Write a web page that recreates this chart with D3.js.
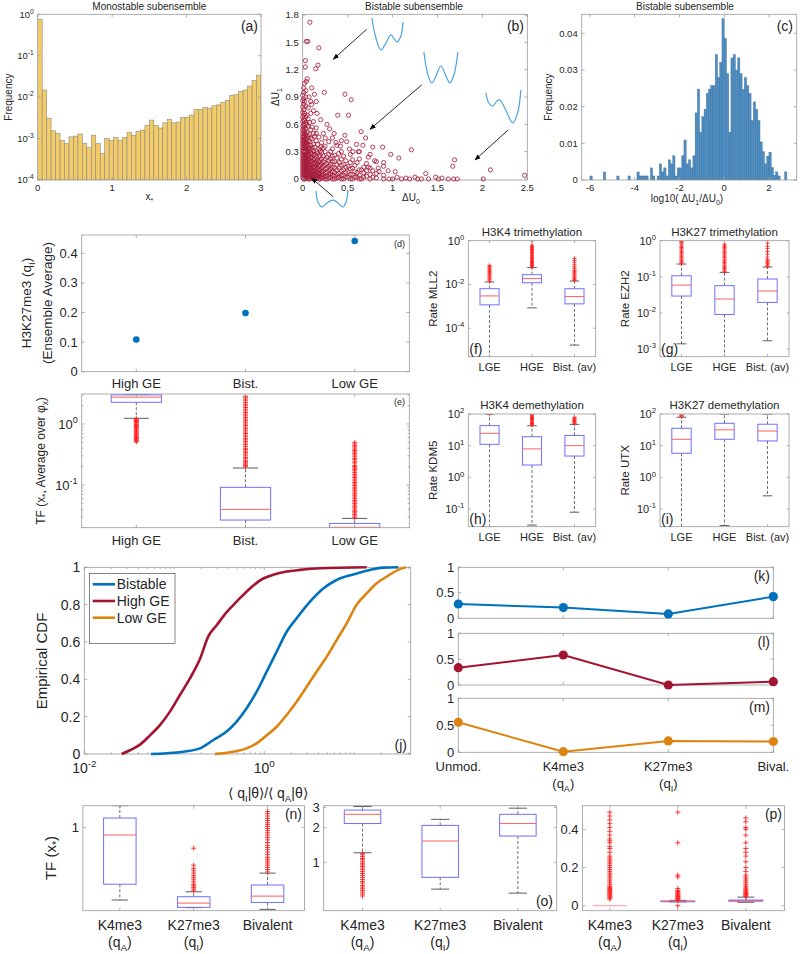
<!DOCTYPE html>
<html><head><meta charset="utf-8">
<script src="https://cdn.jsdelivr.net/npm/d3@7"></script>
<style>body{margin:0;background:#fff}svg{display:block;background:#fff}text{font-family:"Liberation Sans",Arial,Helvetica,sans-serif;fill:#262626}</style>
</head><body><script>
// ================= DATA =================
// (a) monostable histogram
const monoBinStart = 0, monoBinWidth = 0.06;
const monoFreq = [0.76,0.0149,0.0031,0.00154,0.00134,0.00089,0.00076,0.0011,0.00115,0.00129,0.00076,0.00061,0.0012,0.00076,0.00044,0.001,0.00089,0.00107,0.00089,0.00107,0.0014,0.0012,0.0015,0.0016,0.0021,0.0028,0.0021,0.0018,0.0024,0.0029,0.0024,0.0025,0.0032,0.0033,0.0037,0.0051,0.0051,0.0057,0.0054,0.0062,0.0065,0.0075,0.0084,0.011,0.0115,0.0138,0.0149,0.0185,0.025,0.034];
// (b) bistable scatter: dense columns [dU0, [dU1...]] and sparse points
const scatterCols = [
 [0.0,[0.015,0.045,0.075,0.105,0.135,0.165,0.195,0.225,0.255,0.285,0.315,0.345,0.375,0.405,0.435,0.465,0.5,0.54,0.58,0.63,0.68,0.73,0.79,0.86,0.92]],
 [0.01,[0,0.03,0.06,0.09,0.12,0.15,0.18,0.21,0.24,0.27,0.3,0.33,0.36,0.39,0.42,0.45,0.48,0.52,0.56,0.6,0.65,0.7,0.76,0.82,0.88,0.95,1.0]],
 [0.022,[0.0,0.025,0.055,0.085,0.115,0.145,0.175,0.205,0.235,0.265,0.295,0.325,0.355,0.385,0.415,0.46,0.5,0.53,0.59,0.64,0.72,0.85]],
 [0.035,[0.01,0.04,0.07,0.1,0.13,0.16,0.19,0.22,0.25,0.28,0.31,0.34,0.37,0.4,0.44,0.48,0.55,0.62,0.68,0.8,0.9,0.97]],
 [0.047,[0.015,0.045,0.075,0.105,0.135,0.165,0.195,0.225,0.255,0.29,0.32,0.36,0.4,0.45,0.51,0.6,0.7]],
 [0.06,[0,0.03,0.06,0.09,0.12,0.15,0.18,0.21,0.24,0.27,0.3,0.34,0.38,0.42,0.47,0.58,0.66,0.78]],
 [0.075,[0.0,0.025,0.055,0.085,0.115,0.145,0.18,0.22,0.26,0.3,0.34,0.41,0.49,0.62]],
 [0.09,[0.01,0.04,0.07,0.1,0.13,0.16,0.2,0.24,0.28,0.32,0.37,0.45,0.54,0.72,0.85]],
 [0.105,[0.015,0.045,0.075,0.11,0.15,0.19,0.23,0.28,0.34,0.44,0.57]],
 [0.12,[0,0.03,0.06,0.09,0.13,0.17,0.21,0.26,0.31,0.38,0.5,0.63]],
 [0.135,[0.0,0.025,0.055,0.09,0.13,0.17,0.22,0.27,0.35,0.47]],
 [0.15,[0.01,0.04,0.07,0.11,0.15,0.19,0.24,0.3,0.42,0.56]],
 [0.165,[0.015,0.05,0.085,0.12,0.165,0.21,0.28,0.38]],
 [0.18,[0,0.03,0.06,0.1,0.14,0.19,0.25,0.33,0.46]],
 [0.195,[0.0,0.025,0.06,0.1,0.15,0.2,0.26,0.31]],
 [0.21,[0.01,0.04,0.08,0.12,0.17,0.22,0.29,0.4]],
 [0.23,[0.015,0.05,0.09,0.14,0.19,0.25,0.34]],
 [0.25,[0,0.03,0.07,0.11,0.16,0.22,0.3,0.36]],
 [0.27,[0.0,0.03,0.07,0.12,0.17,0.24]],
 [0.29,[0.01,0.05,0.09,0.14,0.2,0.27,0.41]],
 [0.31,[0.02,0.06,0.11,0.16,0.22,0.3]],
 [0.33,[0,0.04,0.08,0.13,0.19,0.25,0.33]],
 [0.355,[0.0,0.03,0.07,0.12,0.19,0.26]],
 [0.38,[0.01,0.05,0.1,0.16,0.23,0.37]],
 [0.405,[0.02,0.06,0.12,0.18]],
 [0.43,[0,0.04,0.09,0.15,0.22,0.3]],
 [0.455,[0.0,0.04,0.1,0.16,0.25]],
 [0.48,[0.02,0.07,0.13,0.2]],
 [0.505,[0.02,0.08,0.14]],
 [0.53,[0,0.05,0.11,0.18,0.27]],
 [0.555,[0.0,0.05,0.12,0.21]],
 [0.58,[0.02,0.08,0.15]],
 [0.605,[0.02,0.07,0.18]],
 [0.63,[0,0.04,0.1,0.22,0.3]],
 [0.655,[0.0,0.1]],
 [0.68,[0.02,0.07,0.13]],
 [0.71,[0.03,0.09,0.17]],
 [0.75,[0,0.05,0.12,0.27]],
 [0.78,[0.02,0.09]],
 [0.82,[0.01,0.06,0.19]],
 [0.9,[0,0.04,0.14]]
];
const scatterSparse = [[0.08,1.72],[0.04,1.51],[0.056,1.51],[0.18,1.44],[0.03,1.3],[0.03,1.23],[0.145,1.21],[0.17,1.25],[0.04,1.07],[0.24,0.95],[0.47,0.93],[0.54,0.87],[0.13,0.93],[0.1,1.0],[0.51,0.7],[0.39,0.7],[0.65,0.52],[0.16,0.72],[0.47,0.48],[0.43,0.42],[0.37,0.4],[0.49,0.41],[0.67,0.37],[0.78,0.35],[0.89,0.35],[0.98,0.27],[1.07,0.23],[1.21,0.32],[0.73,0.24],[0.8,0.2],[0.9,0.18],[0.73,0.13],[0.84,0.12],[1.69,0.21],[1.67,0.14],[2.09,0.1],[2.01,0.0],[2.47,0.04],[1.37,0.06],[1.48,0.02],[1.51,0.0],[1.62,0.0],[1.1,0.0],[1.19,0.0],[1.0,0.0],[1.05,0.02],[0.96,0.0],[1.28,0.0],[1.25,0.02],[1.15,0.01],[1.55,0.01],[1.68,0.0],[1.72,0.0],[0.7,0.45],[0.6,0.38],[0.85,0.08],[0.95,0.09],[1.03,0.08],[0.62,0.3],[0.56,0.3],[0.27,0.6],[0.2,0.65],[0.1,0.82],[0.07,0.9],[0.23,0.5],[0.3,0.55],[0.35,0.5],[0.12,0.75],[0.05,1.1],[0.02,1.05],[0.15,0.85],[0.42,0.36],[0.52,0.33],[1.32,0.0],[1.4,0.0],[0.33,0.45],[0.4,0.28],[0.25,0.45],[0.2,0.35],[0.15,0.5]];
// (b) potential sketches and arrows, in (dU0,dU1) units
const potentialSketches = [
 [[0.771,1.767],[0.815,1.548],[0.871,1.416],[0.927,1.493],[0.982,1.581],[1.049,1.504],[1.093,1.570],[1.116,1.723]],
 [[1.349,1.394],[1.394,1.142],[1.438,1.054],[1.483,1.131],[1.538,1.240],[1.594,1.131],[1.638,1.054],[1.683,1.142],[1.728,1.394]],
 [[2.039,0.944],[2.072,0.834],[2.117,0.801],[2.161,0.856],[2.195,0.867],[2.250,0.779],[2.339,0.615],[2.395,0.735],[2.428,0.977]],
 [[0.148,-0.132],[0.170,-0.252],[0.215,-0.307],[0.270,-0.263],[0.337,-0.231],[0.393,-0.263],[0.448,-0.307],[0.482,-0.252],[0.504,-0.132]]
];
const sketchArrows = [[[0.712,1.643],[0.340,1.314]],[[1.324,1.032],[0.749,0.546]],[[2.287,0.538],[1.917,0.209]],[[0.340,-0.194],[0.100,0.008]]];
// (c) log10 ratio histogram, bins of 0.1 from -6.1
const ratioBinStart = -6.1, ratioBinWidth = 0.1;
const ratioFreq = [0,0.0011,0,0,0,0,0,0.0022,0,0,0,
 0,0,0.0011,0,0,0,0,0.0011,0,0,
 0,0.0022,0.0011,0.0011,0.0011,0.0011,0,0.0033,0.0011,0,
 0.0011,0.0044,0.0022,0.0033,0.0011,0.0055,0.0044,0.0066,0.0011,0.0033,
 0.0033,0.0066,0.0109,0.0044,0.0055,0.0033,0.0066,0.0183,0.0248,0.013,
 0.0173,0.0193,0.0236,0.0248,0.0257,0.0257,0.0342,0.0279,0.0321,0.044,
 0.0386,0.029,0.013,0.0333,0.0342,0.03,0.0333,0.029,0.0247,0.0279,
 0.0257,0.0236,0.0162,0.0213,0.0193,0.0162,0.0104,0.0077,0.0044,0.0065,
 0.0076,0.0034,0.0013,0.0022,0.0011,0,0,0.0022];
// (d)
const geClasses = ["High GE","Bist.","Low GE"];
const h3k27Avg = [0.109,0.198,0.4415];
// (e)
const tfStats = [{q1:2.27,med:2.75,q3:2.99,lo:1.24,hi:3.1},{q1:0.0267,med:0.0399,q3:0.0917,lo:0.012,hi:0.19},{q1:0.018,med:0.0203,q3:0.0235,lo:0.012,hi:0.0284}];
const tfOut = [
 [1.22,1.18,1.15,1.12,1.1,1.07,1.04,1.0,0.97,0.94,0.91,0.88,0.85,0.82,0.79,0.76,0.73,0.7,0.67,0.64,0.62,0.6,0.58,0.56,0.54,0.52,0.51],
 [0.2,0.21,0.22,0.23,0.24,0.25,0.27,0.28,0.3,0.32,0.34,0.36,0.38,0.4,0.43,0.46,0.49,0.52,0.55,0.58,0.62,0.66,0.7,0.74,0.79,0.84,0.89,0.95,1.0,1.07,1.13,1.2,1.28,1.36,1.45,1.54,1.64,1.75,1.86,1.98,2.1,2.24,2.4,2.55,2.7,2.85],
 [0.029,0.031,0.033,0.035,0.037,0.039,0.042,0.044,0.047,0.05,0.053,0.056,0.06,0.064,0.068,0.072,0.077,0.082,0.087,0.092,0.098,0.104,0.11,0.117,0.125,0.133,0.141,0.15,0.16,0.17,0.18,0.19,0.2,0.21,0.23,0.24,0.26,0.27,0.29,0.31,0.33,0.35,0.37,0.39,0.42,0.44,0.47,0.5]];
// (f)-(i)
const rateClasses = ["LGE","HGE","Bist. (av)"];
const mll2Stats = [{q1:0.00117,med:0.003,q3:0.0064,lo:1e-6,hi:0.013},{q1:0.012,med:0.0186,q3:0.028,lo:0.00085,hi:0.059},{q1:0.0013,med:0.0028,q3:0.0064,lo:1.7e-5,hi:0.0144}];
const mll2Out = [[0.014,0.016,0.018,0.02,0.022,0.025,0.028,0.031,0.035,0.039,0.044,0.049,0.055,0.061,0.068,0.074],
 [0.062,0.068,0.075,0.083,0.092,0.1,0.11,0.12,0.135,0.15,0.165,0.18,0.2,0.22,0.25,0.28,0.31,0.35,0.4,0.45,0.48,0.55,0.62,1.0],
 [0.015,0.017,0.019,0.021,0.024,0.027,0.03,0.034,0.038,0.042,0.045,0.055,0.065,0.08,0.1,0.125,0.155]];
const ezh2Stats = [{q1:0.0294,med:0.059,q3:0.107,lo:0.0014,hi:0.226},{q1:0.0091,med:0.0244,q3:0.057,lo:0.0003,hi:0.133},{q1:0.0196,med:0.0405,q3:0.087,lo:0.0017,hi:0.187}];
const ezh2Out = [[0.23,0.25,0.27,0.29,0.31,0.34,0.37,0.4,0.43,0.47,0.51,0.55,0.6,0.65,0.7,0.76,0.82,0.89,0.95,1.0],
 [0.135,0.145,0.155,0.17,0.18,0.195,0.21,0.23,0.25,0.27,0.29,0.31,0.34,0.37,0.4,0.43,0.47,0.51,0.55,0.6,0.65,0.7,0.75,0.8],
 [0.19,0.2,0.215,0.23,0.245,0.26,0.28,0.3,0.35,0.42,0.5,0.6,0.7,0.85,1.0]];
const kdm5Stats = [{q1:11,med:24.5,q3:43,lo:0.001,hi:100},{q1:2.45,med:7.9,q3:19.2,lo:0.031,hi:42.5},{q1:4.7,med:10,q3:21,lo:0.079,hi:47}];
const kdm5Out = [[97,100],[44,47,50,53,56,60,64,68,72,77,82,87,92,97,100],[49,52,55,58,62,66,70,74,79]];
const utxStats = [{q1:5.75,med:15.9,q3:35.4,lo:0.001,hi:79},{q1:15.9,med:31.6,q3:50.8,lo:0.03,hi:100},{q1:14.1,med:29,q3:47.5,lo:0.26,hi:100}];
const utxOut = [[82,86,90,94],[],[]];
// (j) empirical CDFs
const cdfBistX = [0.0551,0.1259,0.1932,0.2716,0.382,0.493,0.637,0.824,1.064,1.374,1.774,2.291,3.221,4.529,6.368,9.772,14.93,21.04,30.83];
const cdfBistY = [0,0.0125,0.03,0.075,0.12,0.173,0.245,0.334,0.441,0.548,0.655,0.727,0.816,0.887,0.932,0.962,0.986,0.998,1];
const cdfHighX = [0.026,0.0322,0.0416,0.0537,0.0693,0.0895,0.1156,0.1493,0.1932,0.2388,0.2958,0.382,0.493,0.693,0.975,1.259,1.774,2.495,4.159,13.74];
const cdfHighY = [0,0.02,0.05,0.1,0.155,0.227,0.316,0.405,0.51,0.63,0.69,0.76,0.816,0.887,0.94,0.96,0.977,0.986,0.995,1];
const cdfLowX = [0.2831,0.4529,0.637,0.824,1.064,1.374,1.774,2.291,2.958,3.819,4.932,6.368,8.241,10.64,13.74,17.74,22.91,30.83,37.5];
const cdfLowY = [0,0.0125,0.03,0.057,0.1,0.146,0.209,0.28,0.36,0.441,0.52,0.61,0.7,0.8,0.86,0.914,0.95,0.986,1];
// (k)-(m)
const markStates = ["Unmod.","K4me3","K27me3","Bival."];
const fracBist = [0.28,0.21,0.085,0.425];
const fracHigh = [0.335,0.58,0.0,0.065];
const fracLow = [0.555,0.012,0.21,0.2];
// (n)-(p)
const nStats = [{q1:0.32,med:0.86,q3:1.21,lo:0.233,hi:1.55},{q1:0.201,med:0.219,q3:0.249,lo:0.2,hi:0.275},{q1:0.222,med:0.252,q3:0.315,lo:0.193,hi:0.4}];
const nOut = [[],[0.28,0.29,0.3,0.31,0.32,0.335,0.35,0.365,0.38,0.4,0.42,0.44,0.47,0.66],
 [0.41,0.43,0.45,0.47,0.49,0.51,0.53,0.55,0.58,0.61,0.64,0.67,0.7,0.74,0.78,0.82,0.86,0.9,0.94,0.98,1.02,1.06,1.1,1.15,1.2,1.26,1.32,1.38]];
const oStats = [{q1:2.17,med:2.61,q3:2.84,lo:1.21,hi:3.05},{q1:0.74,med:1.53,q3:2.09,lo:0.585,hi:2.36},{q1:1.69,med:2.17,q3:2.61,lo:0.54,hi:2.95}];
const oOut = [[1.19,1.16,1.12,1.08,1.05,1.01,0.98,0.95,0.92,0.89,0.86,0.83,0.8,0.77,0.74,0.71,0.68,0.66,0.63,0.61,0.59,0.57,0.55,0.53,0.51],[],[]];
const pStats = [{q1:0,med:0,q3:0,lo:0,hi:0},{q1:0.021,med:0.023,q3:0.025,lo:0.02,hi:0.028},{q1:0.024,med:0.026,q3:0.03,lo:0.018,hi:0.045}];
const pOut = [[0.035,0.04,0.045,0.05,0.055,0.06,0.065,0.07,0.075,0.08,0.085,0.09,0.095,0.1,0.11,0.12,0.13,0.14,0.15,0.16,0.17,0.18,0.19,0.2,0.21,0.22,0.23,0.24,0.25,0.26,0.28,0.3,0.31,0.33,0.34,0.35,0.37,0.39,0.41,0.43,0.45,0.47,0.49],
 [0.0,0.03,0.033,0.036,0.04,0.044,0.048,0.052,0.056,0.06,0.065,0.07,0.075,0.08,0.09,0.15,0.16,0.33,0.49],
 [0.048,0.052,0.056,0.06,0.064,0.068,0.072,0.077,0.082,0.087,0.093,0.1,0.11,0.12,0.13,0.14,0.15,0.16,0.18,0.2,0.23,0.26,0.28,0.3,0.33,0.37,0.4,0.41,0.44,0.46]];
const markCats = [["K4me3","A"],["K27me3","I"],["Bivalent",null]];

// ================= DRAWING =================
const svg = d3.select("body").append("svg").attr("width",800).attr("height",954);
const defs = svg.append("defs");
defs.append("marker").attr("id","arr").attr("viewBox","0 0 10 10").attr("refX",9).attr("refY",5)
  .attr("markerWidth",7).attr("markerHeight",7).attr("orient","auto")
  .append("path").attr("d","M0,1.2L10,5L0,8.8z").attr("fill","#000");
const AX = "#9a9a9a";
const BLUE="#0072bd", RED="#a2142f", ORANGE="#dd8410";
let clipN = 0;
function ln(x1,y1,x2,y2,c=AX,w=0.8){svg.append("line").attr("x1",x1).attr("y1",y1).attr("x2",x2).attr("y2",y2).attr("stroke",c).attr("stroke-width",w);}
function frame(x0,y0,x1,y1){svg.append("rect").attr("x",x0).attr("y",y0).attr("width",x1-x0).attr("height",y1-y0).attr("fill","none").attr("stroke",AX).attr("stroke-width",0.8);}
function clipG(x0,y0,x1,y1){const id="clip"+(clipN++);defs.append("clipPath").attr("id",id).append("rect").attr("x",x0).attr("y",y0).attr("width",x1-x0).attr("height",y1-y0);return svg.append("g").attr("clip-path",`url(#${id})`);}
function txt(x,y,parts,o={}){
  const size=o.size||10;
  const t=svg.append("text").attr("x",x).attr("y",y).attr("font-size",size).attr("text-anchor",o.anchor||"middle");
  if(o.rotate) t.attr("transform",`rotate(-90,${x},${y})`);
  if(typeof parts==="string") parts=[parts];
  let shift=0;
  parts.forEach(p=>{
    const [s,k]=Array.isArray(p)?p:[p,null];
    const target=k==="sup"?-0.42*size:k==="sub"?0.28*size:0;
    const ts=t.append("tspan").text(s).attr("dy",target-shift);
    if(k) ts.attr("font-size",size*0.7);
    shift=target;
  });
  return t;
}
const pow = e => ["10",[String(e),"sup"]];
function yTicks(ys,vals,fmt,x0,x1,size,tl=3){
  vals.forEach(v=>{const y=ys(v);ln(x0,y,x0+tl,y);ln(x1,y,x1-tl,y);txt(x0-4,y+size*0.35,fmt(v),{size,anchor:"end"});});
}
function xTicks(xs,vals,fmt,y0,y1,size,dy,tl=3){
  vals.forEach((v,i)=>{const x=xs(v);ln(x,y1,x,y1-tl);ln(x,y0,x,y0+tl);const f=fmt(v,i);if(f!==null)txt(x,y1+dy,f,{size});});
}
function minorY(ys,vals,x0,x1){vals.forEach(v=>{const y=ys(v);ln(x0,y,x0+1.7,y);ln(x1,y,x1-1.7,y);});}
function minorX(xs,vals,y0,y1){vals.forEach(v=>{const x=xs(v);ln(x,y1,x,y1-1.7);ln(x,y0,x,y0+1.7);});}
function boxplot(g,xs,ys,stats,outs,w,o={}){
  const ps=o.plus||4.5;
  stats.forEach((s,i)=>{
    const cx=xs(i+1),hw=Math.abs(xs(1+w/2)-xs(1));
    const dash=g.append("g").attr("stroke","#4a4a4a").attr("stroke-width",0.8).attr("stroke-dasharray","3,2");
    dash.append("line").attr("x1",cx).attr("x2",cx).attr("y1",ys(s.q3)).attr("y2",ys(s.hi));
    dash.append("line").attr("x1",cx).attr("x2",cx).attr("y1",ys(s.q1)).attr("y2",ys(s.lo));
    if(s.hi!==s.q3) [s.hi,s.lo].forEach(v=>g.append("line").attr("x1",cx-hw/2).attr("x2",cx+hw/2).attr("y1",ys(v)).attr("y2",ys(v)).attr("stroke","#333").attr("stroke-width",0.8));
    if(s.q3!==s.q1) g.append("rect").attr("x",cx-hw).attr("width",2*hw).attr("y",ys(s.q3)).attr("height",ys(s.q1)-ys(s.q3)).attr("fill","none").attr("stroke","#6f6fff").attr("stroke-width",1);
    g.append("line").attr("x1",cx-hw).attr("x2",cx+hw).attr("y1",ys(s.med)).attr("y2",ys(s.med)).attr("stroke",s.q3!==s.q1?"#ff6060":"#ff9a9a").attr("stroke-width",1);
    (outs[i]||[]).forEach(v=>{const y=ys(v);g.append("path").attr("d",`M${cx-ps/2},${y}h${ps}M${cx},${y-ps/2}v${ps}`).attr("stroke","#ff2020").attr("stroke-width",0.9).attr("fill","none");});
  });
}

// ---------- (a) ----------
{
  const x0=37.7,x1=261,y0=14.3,y1=180;
  const xs=d3.scaleLinear([0,3],[x0,x1]), ys=d3.scaleLog([1e-4,1],[y1,y0]);
  const g=clipG(x0,y0,x1,y1);
  g.selectAll("rect").data(monoFreq).join("rect")
    .attr("x",(d,i)=>xs(monoBinStart+i*monoBinWidth)).attr("width",xs(monoBinWidth)-xs(0))
    .attr("y",d=>ys(d)).attr("height",d=>ys(1e-4)-ys(d))
    .attr("fill","#f3cb69").attr("stroke","#8d8a80").attr("stroke-width",0.6);
  frame(x0,y0,x1,y1);
  xTicks(xs,[0,1,2,3],v=>String(v),y0,y1,9.5,11);
  yTicks(ys,[1e-4,1e-3,1e-2,1e-1,1],v=>pow(Math.round(Math.log10(v))),x0,x1,9.5);
  txt((x0+x1)/2,10,"Monostable subensemble",{size:10});
  txt((x0+x1)/2,200,["x",["*","sub"]],{size:10});
  txt(12,(y0+y1)/2,"Frequency",{size:10,rotate:true});
  txt(258,31,"(a)",{size:14,anchor:"end"});
}
// ---------- (b) ----------
{
  const x0=302.7,x1=527.3,y0=14.3,y1=180;
  const xs=d3.scaleLinear([0,2.5],[x0,x1]), ys=d3.scaleLinear([0,1.8],[179,15]);
  frame(x0,y0,x1,y1);
  const pts=[];
  scatterCols.forEach(([u,vs])=>vs.forEach(v=>pts.push([u,v])));
  scatterSparse.forEach(p=>pts.push(p));
  svg.append("g").selectAll("circle").data(pts).join("circle")
    .attr("cx",d=>xs(d[0])).attr("cy",d=>ys(d[1])).attr("r",2.1)
    .attr("fill","none").attr("stroke","#a81d3c").attr("stroke-width",0.85);
  xTicks(xs,[0,0.5,1,1.5,2,2.5],v=>String(v),y0,y1,9.5,11);
  yTicks(ys,[0,0.3,0.6,0.9,1.2,1.5,1.8],v=>v===0?"0":v.toFixed(1),x0,x1,9.5);
  const line=d3.line().x(d=>xs(d[0])).y(d=>ys(d[1])).curve(d3.curveCatmullRom);
  potentialSketches.forEach(s=>svg.append("path").attr("d",line(s)).attr("fill","none").attr("stroke","#4aa3df").attr("stroke-width",1.2));
  sketchArrows.forEach(([a,b])=>svg.append("line").attr("x1",xs(a[0])).attr("y1",ys(a[1])).attr("x2",xs(b[0])).attr("y2",ys(b[1])).attr("stroke","#111").attr("stroke-width",0.9).attr("marker-end","url(#arr)"));
  txt(414,10,"Bistable subensemble",{size:10});
  txt(411,201,["ΔU",["0","sub"]],{size:10});
  txt(279,97,["ΔU",["1","sub"]],{size:10,rotate:true});
  txt(524,31,"(b)",{size:14,anchor:"end"});
}
// ---------- (c) ----------
{
  const x0=581.7,x1=796.7,y0=14.3,y1=180;
  const xs=d3.scaleLinear([-6.37,3.24],[x0,x1]), ys=d3.scaleLinear([0,0.0452],[y1,y0]);
  const g=clipG(x0,y0,x1,y1);
  g.selectAll("rect").data(ratioFreq).join("rect")
    .attr("x",(d,i)=>xs(ratioBinStart+i*ratioBinWidth)).attr("width",xs(ratioBinWidth)-xs(0))
    .attr("y",d=>ys(d)).attr("height",d=>ys(0)-ys(d))
    .attr("fill","#4d8fc6").attr("stroke","#3a6b93").attr("stroke-width",0.4);
  frame(x0,y0,x1,y1);
  xTicks(xs,[-6,-4,-2,0,2],v=>String(v),y0,y1,9.5,11);
  yTicks(ys,[0,0.01,0.02,0.03,0.04],v=>v===0?"0":v.toFixed(2),x0,x1,9.5);
  txt(685,10,"Bistable subensemble",{size:10});
  txt(687,202,["log10( ΔU",["1","sub"],"/ΔU",["0","sub"],")"],{size:10});
  txt(552,97,"Frequency",{size:10,rotate:true});
  txt(793,31,"(c)",{size:14,anchor:"end"});
}
// ---------- (d) ----------
{
  const x0=81.7,x1=409.3,y0=235,y1=371.7;
  const xs=d3.scaleLinear([0.5,3.5],[x0,x1]), ys=d3.scaleLinear([0,0.462],[y1,y0]);
  frame(x0,y0,x1,y1);
  yTicks(ys,[0,0.1,0.2,0.3,0.4],v=>v===0?"0":v.toFixed(1),x0,x1,13);
  xTicks(xs,[1,2,3],(v,i)=>geClasses[i],y0,y1,13,16);
  svg.append("g").selectAll("circle").data(h3k27Avg).join("circle")
    .attr("cx",(d,i)=>xs(i+1)).attr("cy",d=>ys(d)).attr("r",3.3).attr("fill",BLUE);
  txt(31,303,["H3K27me3 (q",["I","sub"],")"],{size:13.5,rotate:true});
  txt(52,303,"(Ensemble Average)",{size:13.5,rotate:true});
  txt(405,246.5,"(d)",{size:9,anchor:"end"});
}
// ---------- (e) ----------
{
  const x0=81.7,x1=409.3,y0=394,y1=527.7;
  const xs=d3.scaleLinear([0.5,3.5],[x0,x1]), ys=d3.scaleLog([0.02,3.1],[y1,y0]);
  const g=clipG(x0,y0,x1,y1);
  boxplot(g,xs,ys,tfStats,tfOut,0.46,{plus:5});
  frame(x0,y0,x1,y1);
  yTicks(ys,[0.1,1],v=>pow(Math.round(Math.log10(v))),x0,x1,13);
  minorY(ys,[0.02,0.03,0.04,0.05,0.06,0.07,0.08,0.09,0.2,0.3,0.4,0.5,0.6,0.7,0.8,0.9,2,3],x0,x1);
  xTicks(xs,[1,2,3],(v,i)=>geClasses[i],y0,y1,13,17);
  txt(45,461,["TF (x",["*","sub"],", Average over φ",["x","sub"],")"],{size:12,rotate:true});
  txt(405,405,"(e)",{size:9,anchor:"end"});
}
// ---------- (f)-(i) ----------
function ratePanel(o){
  const xs=d3.scaleLinear([0.5,3.5],[o.x0,o.x1]), ys=d3.scaleLog(o.dom,[o.y1,o.y0]);
  const g=clipG(o.x0,o.y0,o.x1,o.y1);
  boxplot(g,xs,ys,o.stats,o.outs,0.45,{plus:4});
  frame(o.x0,o.y0,o.x1,o.y1);
  yTicks(ys,o.ticks,v=>pow(Math.round(Math.log10(v))),o.x0,o.x1,11,2.5);
  xTicks(xs,[1,2,3],(v,i)=>rateClasses[i],o.y0,o.y1,11,14,2.5);
  txt((o.x0+o.x1)/2,o.y0-5,o.title,{size:11.5});
  txt(o.x0-31,(o.y0+o.y1)/2,o.ylab,{size:11.5,rotate:true});
  txt(o.x0+1,o.y1-3,o.tag,{size:14,anchor:"start"});
}
ratePanel({x0:468.3,x1:595.7,y0:240.7,y1:356.7,dom:[Math.pow(10,-5.3),1],ticks:[1e-4,1e-2,1],stats:mll2Stats,outs:mll2Out,title:"H3K4 trimethylation",ylab:"Rate MLL2",tag:"(f)"});
ratePanel({x0:660,x1:789,y0:240.7,y1:356.7,dom:[Math.pow(10,-3.21),1],ticks:[1e-3,1e-2,1e-1,1],stats:ezh2Stats,outs:ezh2Out,title:"H3K27 trimethylation",ylab:"Rate EZH2",tag:"(g)"});
ratePanel({x0:468.3,x1:595.7,y0:414,y1:526.7,dom:[Math.pow(10,-1.56),100],ticks:[0.1,1,10,100],stats:kdm5Stats,outs:kdm5Out,title:"H3K4 demethylation",ylab:"Rate KDM5",tag:"(h)"});
ratePanel({x0:660,x1:789,y0:414,y1:526.7,dom:[Math.pow(10,-1.56),100],ticks:[0.1,1,10,100],stats:utxStats,outs:utxOut,title:"H3K27 demethylation",ylab:"Rate UTX",tag:"(i)"});
// ---------- (j) ----------
{
  const x0=84.3,x1=410.7,y0=567.3,y1=754;
  const xs=d3.scaleLog([0.01,42.4],[x0,x1]), ys=d3.scaleLinear([0,1],[y1,y0]);
  frame(x0,y0,x1,y1);
  yTicks(ys,[0,0.2,0.4,0.6,0.8,1],v=>(v===0||v===1)?String(v):v.toFixed(1),x0,x1,14);
  xTicks(xs,[0.01,1],v=>pow(Math.round(Math.log10(v))),y0,y1,14,19);
  minorX(xs,[0.02,0.03,0.04,0.05,0.06,0.07,0.08,0.09,0.1,0.2,0.3,0.4,0.5,0.6,0.7,0.8,0.9,2,3,4,5,6,7,8,9,10,20,30,40],y0,y1);
  const line=d3.line().x(d=>xs(d[0])).y(d=>ys(d[1])).curve(d3.curveMonotoneX);
  const series=[[cdfBistX,cdfBistY,BLUE,"Bistable"],[cdfHighX,cdfHighY,RED,"High GE"],[cdfLowX,cdfLowY,ORANGE,"Low GE"]];
  series.forEach(([X,Y,c])=>svg.append("path").attr("d",line(X.map((x,i)=>[x,Y[i]]))).attr("fill","none").attr("stroke",c).attr("stroke-width",2.6));
  svg.append("rect").attr("x",89.3).attr("y",573.3).attr("width",85.7).attr("height",70).attr("fill","#fff").attr("stroke","#333").attr("stroke-width",0.6);
  series.forEach(([X,Y,c,name],i)=>{
    const yy=584.3+i*16.7;
    ln(92.7,yy,115,yy,c,2.6);
    txt(116.7,yy+5,name,{size:14,anchor:"start"});
  });
  txt(47,661,"Empirical CDF",{size:15,rotate:true});
  txt(268,798,["⟨ q",["I","sub"],"|θ⟩/⟨ q",["A","sub"],"|θ⟩"],{size:14});
  txt(407,750,"(j)",{size:14,anchor:"end"});
}
// ---------- (k)-(m) ----------
{
  const x0=458.3,x1=773.3;
  const xs=d3.scaleLinear([1,4],[x0,x1]);
  const rows=[[567.3,618.3,fracBist,BLUE,"(k)"],[633.3,685,fracHigh,RED,"(l)"],[698.3,752.3,fracLow,ORANGE,"(m)"]];
  rows.forEach(([y0,y1,vals,c,tag],r)=>{
    const ys=d3.scaleLinear([0,1],[y1,y0]);
    frame(x0,y0,x1,y1);
    yTicks(ys,[0,0.5,1],v=>String(v),x0,x1,13);
    xTicks(xs,[1,2,3,4],()=>null,y0,y1,13,0);
    svg.append("path").attr("d",d3.line().x((d,i)=>xs(i+1)).y(d=>ys(d))(vals)).attr("fill","none").attr("stroke",c).attr("stroke-width",2);
    svg.append("g").selectAll("circle").data(vals).join("circle").attr("cx",(d,i)=>xs(i+1)).attr("cy",d=>ys(d)).attr("r",4.6).attr("fill",c);
    txt(770,y0+14,tag,{size:14,anchor:"end"});
  });
  txt(xs(1),771,markStates[0],{size:13});
  txt(xs(2),771,markStates[1],{size:13});
  txt(xs(2),788,["(q",["A","sub"],")"],{size:13});
  txt(xs(3),771,markStates[2],{size:13});
  txt(xs(3),788,["(q",["I","sub"],")"],{size:13});
  txt(xs(4),771,markStates[3],{size:13});
}
// ---------- (n)-(p) ----------
function tfPanel(o){
  const xs=d3.scaleLinear(o.xdom,[o.x0,o.x1]);
  const y0=805.7,y1=910.7;
  const ys=o.log?d3.scaleLog(o.ydom,[y1,y0]):d3.scaleLinear(o.ydom,[y1,y0]);
  const g=clipG(o.x0-3,y0,o.x1,y1+3);
  boxplot(g,xs,ys,o.stats,o.outs,o.w,{plus:5});
  frame(o.x0,y0,o.x1,y1);
  yTicks(ys,o.ticks,o.fmt,o.x0,o.x1,13);
  xTicks(xs,[1,2,3],()=>null,y0,y1,13,0);
  markCats.forEach(([a,s],i)=>{
    txt(xs(i+1),930,a,{size:14});
    if(s) txt(xs(i+1),947,["(q",[s,"sub"],")"],{size:14});
  });
  txt(o.tagX,o.tagY,o.tag,{size:14,anchor:"end"});
}
tfPanel({x0:82.9,x1:304.5,xdom:[0.5,3.5],log:true,ydom:[0.188,1.55],ticks:[1],fmt:v=>String(v),stats:nStats,outs:nOut,w:0.44,tag:"(n)",tagX:302,tagY:819});
tfPanel({x0:323.7,x1:556.7,xdom:[0.5,3.5],log:true,ydom:[0.38,3.1],ticks:[1,2,3],fmt:v=>String(v),stats:oStats,outs:oOut,w:0.47,tag:"(o)",tagX:553,tagY:906});
tfPanel({x0:582.6,x1:784.6,xdom:[0.6,3.57],log:false,ydom:[-0.026,0.524],ticks:[0,0.2,0.4],fmt:v=>v===0?"0":v.toFixed(1),stats:pStats,outs:pOut,w:0.5,tag:"(p)",tagX:782,tagY:819});
txt(56,858,["TF (x",["*","sub"],")"],{size:15,rotate:true});
</script></body></html>
